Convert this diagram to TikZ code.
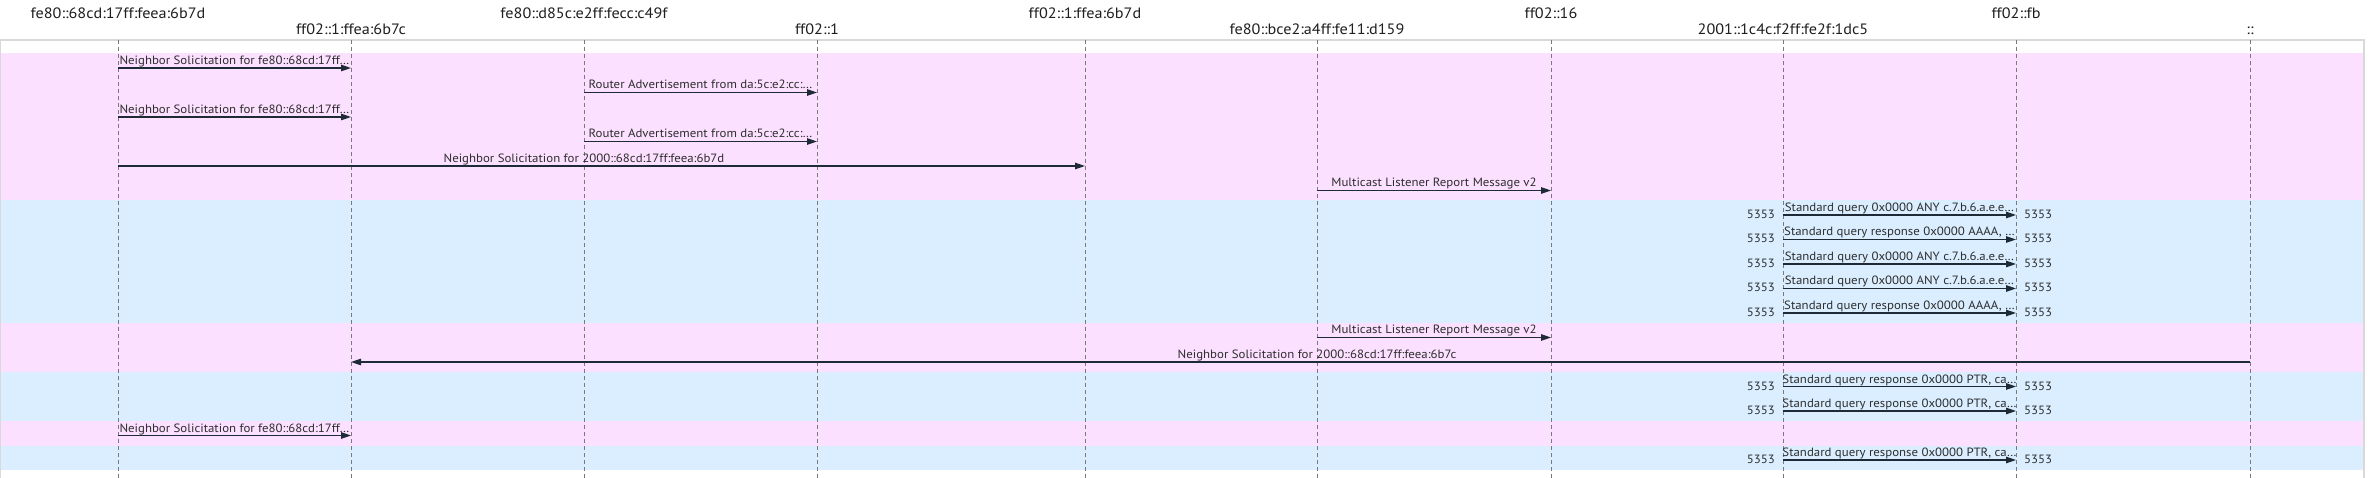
\documentclass[tikz,border=0pt]{standalone}
\usepackage{fontspec}
\setmainfont{PT Sans}
\newfontfamily\widefont[FakeStretch=1.07]{PT Sans}
\newfontfamily\hdrfont[FakeStretch=1.08]{PT Sans}
\usetikzlibrary{arrows.meta}
\definecolor{icmp}{HTML}{FCE0FF}
\definecolor{udp}{HTML}{DAEEFF}
\definecolor{framegray}{HTML}{D9D9D9}
\definecolor{lifegray}{HTML}{7A7A7A}
\definecolor{msgcol}{HTML}{1E2B36}
\definecolor{txtcol}{HTML}{2E2E2E}
\begin{document}
\begin{tikzpicture}[x=1pt,y=-1pt,
  hdr/.style={font=\hdrfont\fontsize{15}{17}\selectfont, text=black!88, inner sep=0pt, anchor=base},
  lbl/.style={font=\widefont\fontsize{12}{14}\selectfont, text=txtcol, inner sep=0pt, anchor=base},
  portl/.style={lbl, anchor=base east},
  portr/.style={lbl, anchor=base west},
  msgarrow/.style={draw=msgcol, line width=1.2pt, -{Triangle[length=10pt,width=6.5pt]}},
  lifeline/.style={draw=lifegray, line width=0.9pt, dash pattern=on 4pt off 3pt},
  framestyle/.style={draw=framegray, line width=1.2pt}]
\useasboundingbox (0,0) rectangle (2370,478);
% lifeline positions
\foreach \i/\x in {1/118,2/351,3/584,4/817,5/1085,6/1317,7/1551,8/1783,9/2016,10/2250}{
  \coordinate (L\i) at (\x,40);
  \coordinate (B\i) at (\x,478);
}
\def\msgs{0/1/2/234.5/icmp/{Neighbor Solicitation for fe80::68cd:17ff…},
1/3/4/700.5/icmp/{Router Advertisement from da:5c:e2:cc:…},
2/1/2/234.5/icmp/{Neighbor Solicitation for fe80::68cd:17ff…},
3/3/4/700.5/icmp/{Router Advertisement from da:5c:e2:cc:…},
4/1/5/584/icmp/{Neighbor Solicitation for 2000::68cd:17ff:feea:6b7d},
5/6/7/1434/icmp/{Multicast Listener Report Message v2},
6/8/9/1899.5/udp/{Standard query 0x0000 ANY c.7.b.6.a.e.e…},
7/8/9/1899.5/udp/{Standard query response 0x0000 AAAA, …},
8/8/9/1899.5/udp/{Standard query 0x0000 ANY c.7.b.6.a.e.e…},
9/8/9/1899.5/udp/{Standard query 0x0000 ANY c.7.b.6.a.e.e…},
10/8/9/1899.5/udp/{Standard query response 0x0000 AAAA, …},
11/6/7/1434/icmp/{Multicast Listener Report Message v2},
12/10/2/1317/icmp/{Neighbor Solicitation for 2000::68cd:17ff:feea:6b7c},
13/8/9/1899.5/udp/{Standard query response 0x0000 PTR, ca…},
14/8/9/1899.5/udp/{Standard query response 0x0000 PTR, ca…},
15/1/2/234.5/icmp/{Neighbor Solicitation for fe80::68cd:17ff…},
16/8/9/1899.5/udp/{Standard query response 0x0000 PTR, ca…}}
% bands
\foreach \k/\a/\b/\lx/\col/\txt in \msgs{
  \pgfmathsetmacro\ytop{53.5+24.5*\k}
  \pgfmathsetmacro\ybot{78+24.5*\k}
  \fill[\col] (1,\ytop) rectangle (2363,\ybot);
}
% frame
\draw[framestyle] (0.6,478) -- (0.6,40) -- (2364,40) -- (2364,478);
% headers
\foreach \i/\name/\yy in {1/{fe80::68cd:17ff:feea:6b7d}/18.3,2/{ff02::1:ffea:6b7c}/34.3,
  3/{fe80::d85c:e2ff:fecc:c49f}/18.3,4/{ff02::1}/34.3,5/{ff02::1:ffea:6b7d}/18.3,
  6/{fe80::bce2:a4ff:fe11:d159}/34.3,7/{ff02::16}/18.3,8/{2001::1c4c:f2ff:fe2f:1dc5}/34.3,
  9/{ff02::fb}/18.3,10/{::}/34.3}{
  \node[hdr] (h\i) at (L\i |- 0,\yy) {\name};
}
% lifelines
\foreach \i in {1,...,10}{ \draw[lifeline] (L\i) -- (B\i); }
% messages
\foreach \k/\a/\b/\lx/\col/\txt in \msgs{
  \pgfmathsetmacro\y{68+24.5*\k}
  \pgfmathsetmacro\yl{\y-3.5}
  \coordinate (s\k) at (L\a |- 0,\y);
  \coordinate (e\k) at (L\b |- 0,\y);
  \draw[msgarrow] (s\k) -- (e\k);
  \node[lbl] (t\k) at (\lx,\yl) {\txt};
}
% ports
\foreach \k in {6,7,8,9,10,13,14,16}{
  \pgfmathsetmacro\yp{68+24.5*\k+3.5}
  \coordinate (pl\k) at (1775,\yp);
  \coordinate (pr\k) at (2024,\yp);
  \node[portl] (ps\k) at (pl\k) {5353};
  \node[portr] (pd\k) at (pr\k) {5353};
}
\end{tikzpicture}
\end{document}
